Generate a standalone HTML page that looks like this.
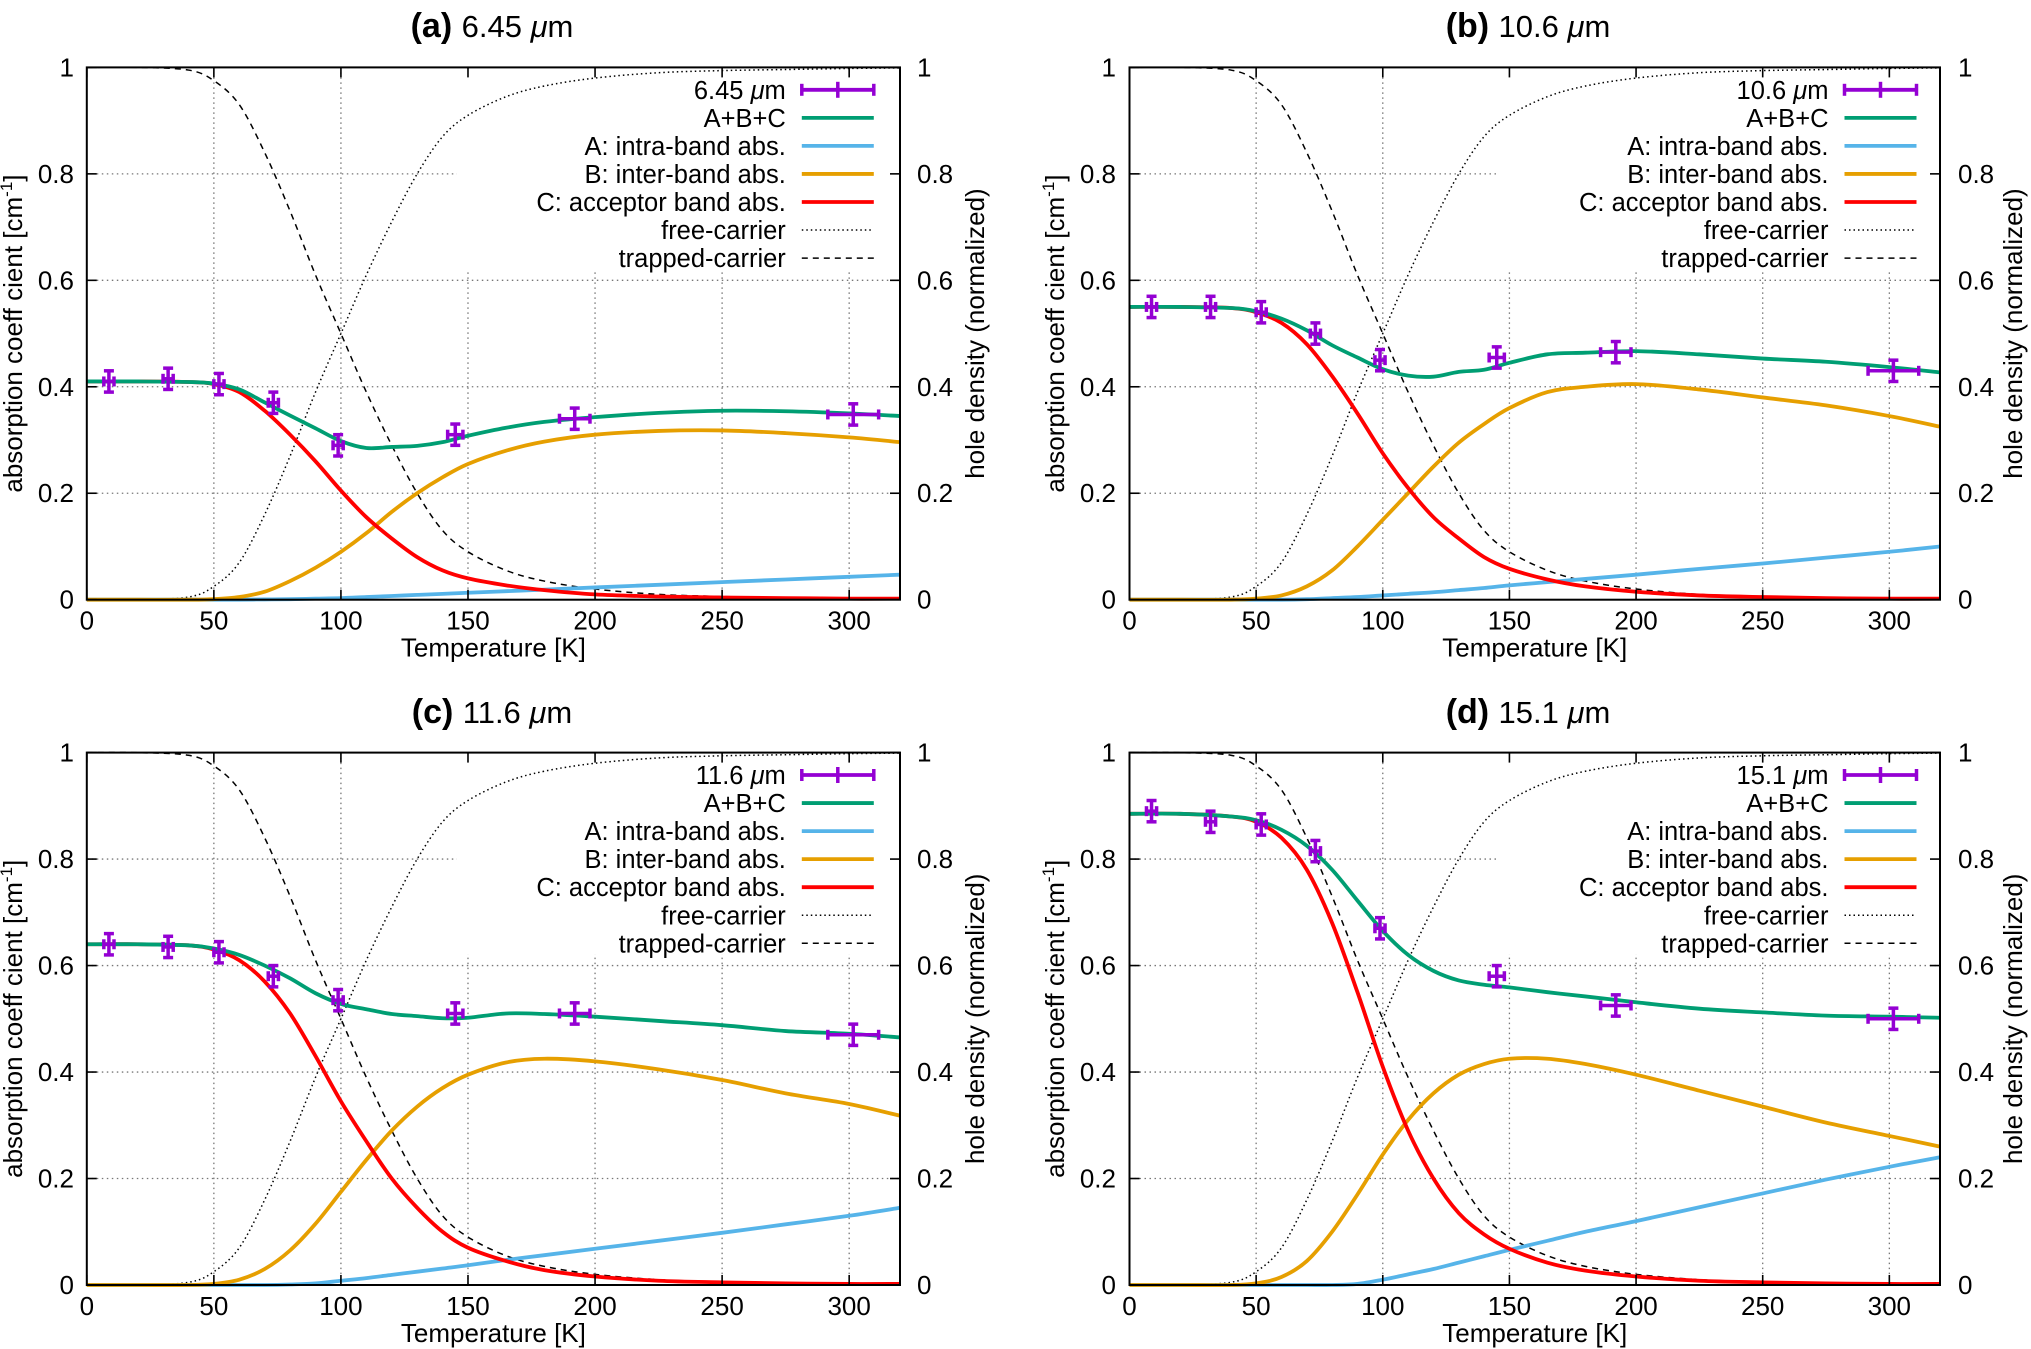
<!DOCTYPE html>
<html><head><meta charset="utf-8"><style>
html,body{margin:0;padding:0;background:#fff;}
svg{display:block;font-family:"Liberation Sans",sans-serif;}
</style></head><body>
<svg id="fig" width="2031" height="1349" viewBox="0 0 2031 1349" xmlns="http://www.w3.org/2000/svg"></svg>
<script>
// shared temperature grid for fitted curves
const gridT = [0,20,40,50,60,70,80,90,100,110,120,130,140,150,165,180,200,225,250,275,300,320];
const trapped = [1,1,0.995,0.975,0.93,0.84,0.73,0.61,0.5,0.39,0.29,0.2,0.13,0.09,0.055,0.035,0.02,0.01,0.006,0.004,0.002,0.001];
const free = [0,0,0.005,0.025,0.07,0.16,0.27,0.39,0.5,0.61,0.71,0.8,0.87,0.91,0.945,0.965,0.98,0.99,0.994,0.996,0.998,0.999];
const measT = [8.7,32,52,73.4,98.9,145,192,301.6];
const measXErr = [2,2,2,2,2,3,6,10];
const xTicks = [0,50,100,150,200,250,300];
const yTicks = [0,0.2,0.4,0.6,0.8,1];
const yTickLabels = ["0","0.2","0.4","0.6","0.8","1"];

const aA = [0,0,0,0,0,0.0005,0.001,0.002,0.003,0.005,0.007,0.009,0.011,0.013,0.016,0.019,0.023,0.028,0.033,0.038,0.043,0.047];
const aB = [0,0,0,0.001,0.005,0.015,0.035,0.06,0.09,0.125,0.165,0.2,0.23,0.255,0.28,0.297,0.31,0.317,0.318,0.313,0.305,0.296];
const aC = [0.41,0.41,0.409,0.405,0.39,0.355,0.31,0.26,0.205,0.155,0.115,0.08,0.055,0.04,0.027,0.018,0.01,0.006,0.004,0.003,0.002,0.002];
const aPts = [0.41,0.415,0.405,0.37,0.29,0.31,0.34,0.348];

const bA = [0,0,0,0,0,0.001,0.003,0.005,0.008,0.011,0.014,0.018,0.022,0.027,0.033,0.039,0.047,0.058,0.068,0.079,0.09,0.1];
const bB = [0,0,0,0.002,0.008,0.025,0.055,0.1,0.15,0.2,0.25,0.295,0.33,0.36,0.39,0.4,0.405,0.395,0.38,0.365,0.345,0.325];
const bC = [0.55,0.55,0.548,0.54,0.52,0.48,0.42,0.35,0.275,0.21,0.155,0.115,0.08,0.058,0.038,0.025,0.015,0.008,0.005,0.003,0.002,0.002];
const bPts = [0.55,0.55,0.54,0.5,0.45,0.455,0.465,0.43];

const cA = [0,0,0,0,0,0,0.001,0.003,0.008,0.013,0.019,0.025,0.031,0.037,0.047,0.056,0.068,0.083,0.098,0.114,0.13,0.145];
const cB = [0,0,0,0.002,0.01,0.03,0.065,0.115,0.175,0.235,0.29,0.335,0.37,0.395,0.418,0.425,0.42,0.405,0.385,0.36,0.34,0.318];
const cC = [0.64,0.64,0.638,0.63,0.61,0.57,0.51,0.43,0.345,0.27,0.2,0.145,0.1,0.07,0.045,0.028,0.016,0.008,0.005,0.003,0.002,0.002];
const cPts = [0.64,0.635,0.625,0.58,0.535,0.51,0.51,0.47];

const dA = [0,0,0,0,0,0,0,0.002,0.01,0.02,0.03,0.042,0.054,0.066,0.083,0.1,0.12,0.146,0.172,0.198,0.222,0.24];
const dB = [0,0,0,0.003,0.015,0.045,0.1,0.17,0.245,0.31,0.36,0.395,0.415,0.425,0.425,0.415,0.395,0.365,0.335,0.305,0.28,0.26];
const dC = [0.885,0.885,0.88,0.87,0.84,0.78,0.68,0.55,0.41,0.29,0.2,0.135,0.095,0.068,0.042,0.027,0.016,0.008,0.005,0.003,0.002,0.002];
const dPts = [0.89,0.87,0.865,0.815,0.67,0.58,0.525,0.5];

const panelLetters = ["(a)","(b)","(c)","(d)"];
const panelWaves = ["6.45","10.6","11.6","15.1"];

const NS = "http://www.w3.org/2000/svg";
const svg = document.getElementById("fig");
function mk(tag, attrs, parent){
  const e = document.createElementNS(NS, tag);
  for (const k in attrs) e.setAttribute(k, attrs[k]);
  (parent||svg).appendChild(e);
  return e;
}
function smooth(pts){
  let d = "M"+pts[0][0].toFixed(2)+","+pts[0][1].toFixed(2);
  for (let i=0;i<pts.length-1;i++){
    const p0=pts[i-1]||pts[i], p1=pts[i], p2=pts[i+1], p3=pts[i+2]||pts[i+1];
    const c1=[p1[0]+(p2[0]-p0[0])/6, p1[1]+(p2[1]-p0[1])/6];
    const c2=[p2[0]-(p3[0]-p1[0])/6, p2[1]-(p3[1]-p1[1])/6];
    d += "C"+c1[0].toFixed(2)+","+c1[1].toFixed(2)+" "+c2[0].toFixed(2)+","+c2[1].toFixed(2)+" "+p2[0].toFixed(2)+","+p2[1].toFixed(2);
  }
  return d;
}

const panels = [
  {L:86.8,R:900,T:67.4,B:599.7,A:aA,Bv:aB,C:aC,P:aPts,lx:74,ylx:22,rx:917,yrx:984,tc:492,ty:37},
  {L:1129.5,R:1940,T:67.4,B:599.7,A:bA,Bv:bB,C:bC,P:bPts,lx:1116,ylx:1064,rx:1958,yrx:2022,tc:1528,ty:37},
  {L:86.8,R:900,T:752.6,B:1285,A:cA,Bv:cB,C:cC,P:cPts,lx:74,ylx:22,rx:917,yrx:984,tc:492,ty:723},
  {L:1129.5,R:1940,T:752.6,B:1285,A:dA,Bv:dB,C:dC,P:dPts,lx:1116,ylx:1064,rx:1958,yrx:2022,tc:1528,ty:723}
];

panels.forEach((p,pi)=>{
  const g = mk("g",{});
  
  
  const W=p.R-p.L, H=p.B-p.T;
  const sx = t => p.L + t/320*W;
  const sy = v => p.B - v*H;
  // title
  const tt = mk("text",{x:p.tc,y:p.ty,"text-anchor":"middle","font-size":"31"},g);
  
  
  const t1 = mk("tspan",{"font-weight":"bold","font-size":"34"},tt); t1.textContent = panelLetters[pi]+" ";
  const t2 = mk("tspan",{},tt); t2.textContent = panelWaves[pi]+" ";
  const t3 = mk("tspan",{"font-style":"italic"},tt); t3.textContent = "μ";
  const t4 = mk("tspan",{},tt); t4.textContent = "m";
  // grid
  const grid = mk("g",{stroke:"#777","stroke-width":"1.3","stroke-dasharray":"1.5 3.5",fill:"none"},g);
  
  
  xTicks.forEach(t=>{ if(t>0) mk("line",{x1:sx(t),x2:sx(t),y1:p.T,y2:p.B},grid); });
  yTicks.forEach(v=>{ if(v>0&&v<1) mk("line",{x1:p.L,x2:p.R,y1:sy(v),y2:sy(v)},grid); });
  // opaque key box
  const kb = mk("rect",{x:p.L+370,y:p.T+2,width:W-372,height:0.375*H,fill:"#fff"},g);
  
  
  // curves
  const sum = gridT.map((t,i)=>p.A[i]+p.Bv[i]+p.C[i]);
  const curves = [
    [free,"#000",1.5,"1.5 3","free-carrier-curve"],
    [trapped,"#000",1.5,"6 5","trapped-carrier-curve"],
    [p.A,"#56b4e9",3.8,"","intra-band-curve"],
    [p.Bv,"#e69f00",3.8,"","inter-band-curve"],
    [p.C,"#ff0000",3.8,"","acceptor-band-curve"],
    [sum,"#009e73",3.8,"","sum-curve"]
  ];
  curves.forEach(c=>{
    const pts = gridT.map((t,i)=>[sx(t),sy(c[0][i])]);
    const path = mk("path",{d:smooth(pts),fill:"none",stroke:c[1],"stroke-width":c[2],"stroke-dasharray":c[3]||"none","stroke-linejoin":"round"},g);
    
    
  });
  // data points
  measT.forEach((t,i)=>{
    const x=sx(t), y=sy(p.P[i]), ye=0.02*H, xe=measXErr[i]/320*W;
    const pg = mk("g",{stroke:"#9400d3","stroke-width":"3.5",fill:"none"},g);
    
    
    mk("line",{x1:x,x2:x,y1:y-ye,y2:y+ye},pg);
    mk("line",{x1:x-xe,x2:x+xe,y1:y,y2:y},pg);
    mk("line",{x1:x-5,x2:x+5,y1:y-ye,y2:y-ye},pg);
    mk("line",{x1:x-5,x2:x+5,y1:y+ye,y2:y+ye},pg);
    mk("line",{x1:x-xe,x2:x-xe,y1:y-5,y2:y+5},pg);
    mk("line",{x1:x+xe,x2:x+xe,y1:y-5,y2:y+5},pg);
  });
  // frame & ticks
  const fr = mk("rect",{x:p.L,y:p.T,width:W,height:H,fill:"none",stroke:"#000","stroke-width":"2"},g);
  
  
  const tk = mk("g",{stroke:"#000","stroke-width":"1.6"},g);
  xTicks.forEach(t=>{ mk("line",{x1:sx(t),x2:sx(t),y1:p.B,y2:p.B-10},tk); mk("line",{x1:sx(t),x2:sx(t),y1:p.T,y2:p.T+10},tk); });
  yTicks.forEach(v=>{ mk("line",{x1:p.L,x2:p.L+10,y1:sy(v),y2:sy(v)},tk); mk("line",{x1:p.R,x2:p.R-10,y1:sy(v),y2:sy(v)},tk); });
  xTicks.forEach(t=>{
    const e = mk("text",{x:sx(t),y:p.B+30,"text-anchor":"middle","font-size":"26"},g);
    
    
    e.textContent = String(t);
  });
  yTicks.forEach((v,i)=>{
    const e = mk("text",{x:p.lx,y:sy(v)+9,"text-anchor":"end","font-size":"26"},g);
    
    
    e.textContent = yTickLabels[i];
    const e2 = mk("text",{x:p.rx,y:sy(v)+9,"text-anchor":"start","font-size":"26"},g);
    
    
    e2.textContent = yTickLabels[i];
  });
  const xt = mk("text",{x:(p.L+p.R)/2,y:p.B+57,"text-anchor":"middle","font-size":"26"},g);
  
  
  xt.textContent = "Temperature [K]";
  const cy=(p.T+p.B)/2;
  const yt = mk("text",{x:p.ylx,y:cy,"text-anchor":"middle","font-size":"26",transform:"rotate(-90 "+p.ylx+" "+cy+")"},g);
  
  
  const y1 = mk("tspan",{},yt); y1.textContent="absorption coeff cient [cm";
  const y2 = mk("tspan",{"font-size":"17",dy:"-10"},yt); y2.textContent="-1";
  const y3 = mk("tspan",{dy:"10"},yt); y3.textContent="]";
  const y2t = mk("text",{x:p.yrx,y:cy,"text-anchor":"middle","font-size":"26",transform:"rotate(-90 "+p.yrx+" "+cy+")"},g);
  
  
  y2t.textContent = "hole density (normalized)";
  // legend
  const labels = [null,"A+B+C","A: intra-band abs.","B: inter-band abs.","C: acceptor band abs.","free-carrier","trapped-carrier"];
  const lcol = ["#9400d3","#009e73","#56b4e9","#e69f00","#ff0000","#000","#000"];
  labels.forEach((lab,i)=>{
    const ly = p.T+22.4+i*28.05;
    const le = mk("g",{},g);
    
    
    const tx = mk("text",{x:p.L+699,y:ly+9,"text-anchor":"end","font-size":"25.5"},le);
    if(lab===null){
      const a=mk("tspan",{},tx); a.textContent=panelWaves[pi]+" ";
      const b=mk("tspan",{"font-style":"italic"},tx); b.textContent="μ";
      const c=mk("tspan",{},tx); c.textContent="m";
    } else tx.textContent = lab;
    const x1=p.L+715, x2=p.L+787;
    const sw = i>=5?1.5:3.8;
    const da = i===5?"1.5 3":(i===6?"6 5":"none");
    mk("line",{x1:x1,x2:x2,y1:ly,y2:ly,stroke:lcol[i],"stroke-width":sw,"stroke-dasharray":da},le);
    if(i===0){
      const xm=(x1+x2)/2;
      mk("line",{x1:x1,x2:x1,y1:ly-6,y2:ly+6,stroke:lcol[0],"stroke-width":3.5},le);
      mk("line",{x1:x2,x2:x2,y1:ly-6,y2:ly+6,stroke:lcol[0],"stroke-width":3.5},le);
      mk("line",{x1:xm,x2:xm,y1:ly-8,y2:ly+8,stroke:lcol[0],"stroke-width":3.5},le);
    }
  });
});
</script>
</body></html>
